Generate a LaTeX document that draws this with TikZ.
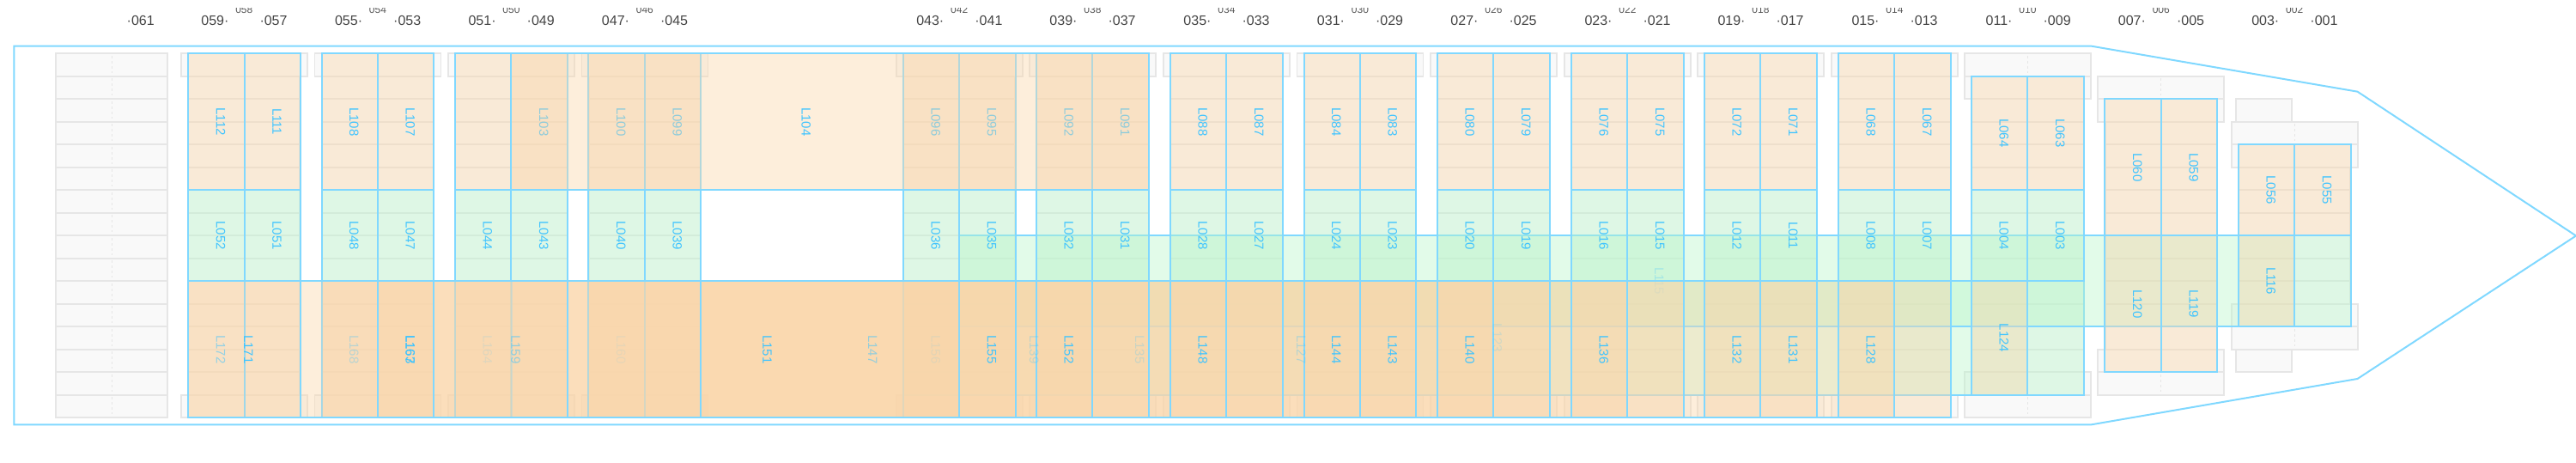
\documentclass[tikz,border=0pt]{standalone}
\usepackage{fontspec}
\setmainfont{Liberation Sans}
\definecolor{hullblue}{RGB}{128,216,255}
\definecolor{lotblue}{RGB}{64,196,255}
\definecolor{tiergray}{RGB}{230,230,230}
\definecolor{tierfill}{RGB}{249,249,249}
\definecolor{cargoorange}{RGB}{250,214,170}
\definecolor{cargogreen}{RGB}{185,246,202}
\definecolor{baytext}{RGB}{68,68,68}
\tikzset{
  tierbox/.style={draw=tiergray,fill=tierfill,line width=1.8pt},
  tierdash/.style={draw=tiergray,line width=1pt,dash pattern=on 3pt off 3pt},
  slotline/.style={draw=hullblue,line width=2pt},
  orangelot/.style={slotline,fill=cargoorange,fill opacity=0.42},
  greenlot/.style={slotline,fill=cargogreen,fill opacity=0.42},
  orangespan/.style={fill=cargoorange,fill opacity=0.42},
  lotlabel/.style={text=lotblue,font=\fontsize{15}{15}\selectfont,rotate=-90,anchor=base,inner sep=0pt},
  baylabel/.style={text=baytext,font=\fontsize{16}{16}\selectfont,inner sep=0pt},
  evenlabel/.style={text=baytext!90,font=\fontsize{12}{12}\selectfont,inner sep=0pt,anchor=base}
}
\newcommand{\tierrow}[3]{%
  \draw[tierbox] ({#1-#2},#3) rectangle ({#1+#2},{#3+1});
  \draw[tierdash] (#1,{#3+0.1}) -- (#1,{#3+0.85});
}
\begin{document}
\begin{tikzpicture}[x=1pt,y=-26.5pt]
    \useasboundingbox (0,-2.347) rectangle (3000,17.955);

    % Bay numbers
    \node[baylabel,anchor=base west] (bay061) at (147.5,-1.215) {·061};
    \foreach \cx/\lft/\mid/\rgt in {284.3/059/058/057,440/055/054/053,595.5/051/050/049,
        750.9/047/046/045,1117.2/043/042/041,1272.4/039/038/037,1428.4/035/034/033,
        1583.9/031/030/029,1739.4/027/026/025,1895.4/023/022/021,2050.4/019/018/017,
        2206.4/015/014/013,2361.4/011/010/009,2516.8/007/006/005,2672.2/003/002/001}{
      \node[baylabel,anchor=base east] (bay\lft) at ({\cx-17.7},-1.215) {\lft·};
      \node[baylabel,anchor=base west] (bay\rgt) at ({\cx+18},-1.215) {·\rgt};
    }
    \begin{scope}
      \clip (0,-1.977) rectangle (3000,-1);
      \foreach \cx/\mid in {284.3/058,440/054,595.5/050,750.9/046,1117.2/042,1272.4/038,
          1428.4/034,1583.9/030,1739.4/026,1895.4/022,2050.4/018,2206.4/014,2361.4/010,
          2516.8/006,2672.2/002}{
        \node[evenlabel] (bay\mid) at (\cx,-1.762) {\mid};
      }
    \end{scope}

    % Tier rows
    \foreach \r in {0,...,15}{\tierrow{130}{65}{\r}}
    \foreach \cx in {284.3,440,595.5,750.9,1117.2,1272.4,1428.4,1583.9,1739.4,1895.4,2050.4,2206.4}{
      \foreach \r in {1,...,14}{\tierrow{\cx}{65}{\r}}
      \tierrow{\cx}{73.5}{0}
      \tierrow{\cx}{73.5}{15}
    }
    \foreach \r in {2,...,13}{\tierrow{2361.4}{65}{\r}}
    \foreach \r in {0,1,14,15}{\tierrow{2361.4}{73.5}{\r}}
    \foreach \r in {3,...,12}{\tierrow{2516.8}{65}{\r}}
    \foreach \r in {1,2,13,14}{\tierrow{2516.8}{73.5}{\r}}
    \foreach \r in {5,...,10}{\tierrow{2672.2}{65}{\r}}
    \foreach \r in {3,4,11,12}{\tierrow{2672.2}{73.5}{\r}}
    \draw[tierbox] (2604,2) rectangle (2668.6,3);
    \draw[tierbox] (2604,13) rectangle (2668.6,14);

    % Hull
    \draw[slotline] (16.3,-0.328) -- (2434.6,-0.328) -- (2745.5,1.679) -- (3000,8.011)
        -- (2745.5,14.294) -- (2434.6,16.313) -- (16.3,16.313) -- cycle;

    % Long green lots
    \draw[greenlot] (1051.8,10) rectangle (2427,15);
    \draw[greenlot] (1117.2,8) rectangle (2737.6,12);

    % Green lots
    \foreach \bx in {219.2,374.5,530,685.4,1051.8,1207,1363,1518.5,1674,1830,1985,2141,2296}{
      \draw[greenlot] (\bx,6) rectangle ({\bx+65.4},10);
      \draw[greenlot] ({\bx+65.4},6) rectangle ({\bx+130.8},10);
    }
    \node[lotlabel,text opacity=0.3] (L115) at (1927,10) {L115};
    \foreach \lx/\lid in {251.9/L052,317.3/L051,407.2/L048,472.6/L047,562.7/L044,628.1/L043,
        718.1/L040,783.5/L039,1084.5/L036,1149.9/L035,1239.7/L032,1305.1/L031,1395.7/L028,
        1461.1/L027,1551.2/L024,1616.6/L023,1706.7/L020,1772.1/L019,1862.7/L016,1928.1/L015,
        2017.7/L012,2083.1/L011,2173.7/L008,2239.1/L007,2328.7/L004,2394.1/L003}{
      \node[lotlabel] (\lid) at (\lx,8) {\lid};
    }

    % Upper orange lots
    \foreach \bx in {219.2,374.5,530,685.4,1051.8,1207,1363,1518.5,1674,1830,1985,2141}{
      \draw[orangelot] (\bx,0) rectangle ({\bx+65.4},6);
      \draw[orangelot] ({\bx+65.4},0) rectangle ({\bx+130.8},6);
    }
    \draw[orangelot] (2296,1) rectangle (2361.4,6);
    \draw[orangelot] (2361.4,1) rectangle (2426.8,6);
    \draw[orangelot] (2451.4,2) rectangle (2516.8,8);
    \draw[orangelot] (2516.8,2) rectangle (2582.2,8);
    \draw[orangelot] (2606.8,4) rectangle (2672.2,8);
    \draw[orangelot] (2672.2,4) rectangle (2737.6,8);
    \foreach \lx/\lid in {251.9/L112,317.3/L111,407.2/L108,472.6/L107,628.1/L103,718.1/L100,
        783.5/L099,1084.5/L096,1149.9/L095,1239.7/L092,1305.1/L091,1395.7/L088,1461.1/L087,
        1551.2/L084,1616.6/L083,1706.7/L080,1772.1/L079,1862.7/L076,1928.1/L075,2017.7/L072,
        2083.1/L071,2173.7/L068,2239.1/L067}{
      \node[lotlabel] (\lid) at (\lx,3) {\lid};
    }
    \node[lotlabel] (L064) at (2328.7,3.5) {L064};
    \node[lotlabel] (L063) at (2394.1,3.5) {L063};
    \node[lotlabel] (L060) at (2484.1,5) {L060};
    \node[lotlabel] (L059) at (2549.5,5) {L059};
    \node[lotlabel] (L056) at (2639.5,6) {L056};
    \node[lotlabel] (L055) at (2704.9,6) {L055};

    % Wide upper lot
    \fill[orangespan] (595.5,0) rectangle (1338,6);
    \draw[slotline] (595.5,0) -- (1338,0) -- (1338,6) -- (595.5,6);
    \node[lotlabel] (L104) at (933.5,3) {L104};

    % Lower orange lots
    \foreach \bx in {219.2,374.5,530,685.4,1051.8,1207,1363,1518.5,1674,1830,1985,2141}{
      \draw[orangelot] (\bx,10) rectangle ({\bx+65.4},16);
      \draw[orangelot] ({\bx+65.4},10) rectangle ({\bx+130.8},16);
    }
    \draw[orangelot] (2296,10) rectangle (2361.4,15);
    \draw[orangelot] (2451.4,8) rectangle (2516.8,14);
    \draw[orangelot] (2516.8,8) rectangle (2582.2,14);
    \draw[orangelot] (2606.8,8) rectangle (2672.2,12);

    % Long lower spans
    \fill[orangespan] (219.2,10) rectangle (349.6,16);
    \fill[orangespan] (349.6,10) rectangle (595.5,16);
    \fill[orangespan] (374.5,10) rectangle (816.5,16);
    \fill[orangespan] (440,10) rectangle (660.5,16);
    \fill[orangespan] (595.5,10) rectangle (1117.2,16);
    \fill[orangespan] (660.5,10) rectangle (1739.5,16);
    \fill[orangespan] (816.5,10) rectangle (1272.4,16);
    \fill[orangespan] (816.5,10) rectangle (1895.4,16);
    \fill[orangespan] (685.4,10) rectangle (2206.4,16);

    % Lines over the spans
    \foreach \vx/\vop in {219.2/1,284.6/0.4,349.6/1,374.5/0.4,440/1,505.3/1,530/0.3,595.5/0.25,
        660.8/1,685.4/0.5,750.8/0.2,816.2/1,1051.8/0.15,1117.2/0.9,1182.6/1,1207/1,1272.4/1,
        1337.8/1,1363/1,1428.4/1,1493.8/1,1518.5/1,1583.9/1,1649.3/1,1674/1,1739.4/1,
        1804.8/1,1830/1,1895.4/1,1960.8/1,1985/1,2050.4/1,2115.8/1,2141/1,2206.4/1}{
      \draw[slotline,draw opacity=\vop] (\vx,10) -- (\vx,16);
    }
    \draw[slotline,line width=2.6pt] (219.2,10) -- (2427,10);
    \draw[slotline,line width=2.6pt] (219.2,16) -- (2272,16);
    \draw[slotline] (2272,10) -- (2272,16);

    % Lower labels
    \foreach \lx/\ly/\lid/\lop in {251.9/13/L172/0.55,284.2/13/L171/1,407.2/13/L168/0.35,
        472.6/13/L167/1,472.6/13/L163/1,562.7/13/L164/0.15,595.3/13/L159/0.55,718.1/13/L160/0.1,
        888.4/13/L151/1,1011.2/13/L147/0.55,1084.5/13/L156/0.12,1149.9/13/L155/1,1199.2/13/L139/0.3,
        1239.7/13/L152/1,1322.2/13/L135/0.25,1395.7/13/L148/1,1510.2/13/L127/0.35,1551.2/13/L144/1,
        1616.6/13/L143/1,1706.7/13/L140/1,1738.6/12.5/L123/0.2,1862.7/13/L136/1,2017.7/13/L132/1,
        2083.1/13/L131/1,2173.7/13/L128/1,2328.7/12.5/L124/1,2484.1/11/L120/1,2549.5/11/L119/1,
        2639.5/10/L116/1}{
      \node[lotlabel,text opacity=\lop] (\lid) at (\lx,\ly) {\lid};
    }
\end{tikzpicture}
\end{document}
